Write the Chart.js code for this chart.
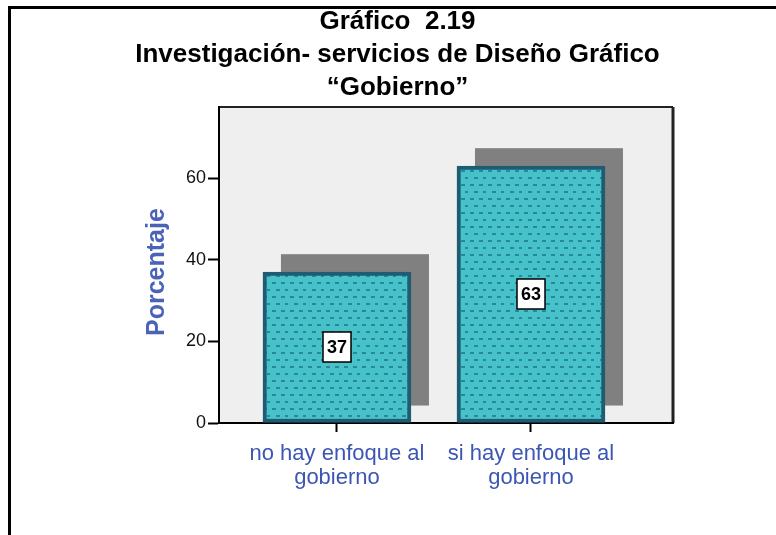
<!DOCTYPE html>
<html>
<head>
<meta charset="utf-8">
<script src="https://cdn.jsdelivr.net/npm/chart.js@4/dist/chart.umd.min.js"></script>
<style>
  html, body { margin: 0; padding: 0; background: #fff; overflow: hidden; }
  #wrap { position: relative; width: 776px; height: 535px; }
  #frame { position: absolute; left: 8px; top: 6px; width: 820px; height: 600px;
           border-left: 3px solid #000; border-top: 3px solid #000; }
  canvas { position: absolute; left: 0; top: 0; }
</style>
</head>
<body>
<div id="wrap">
  <div id="frame"></div>
  <canvas id="chart" width="776" height="535"></canvas>
</div>
<script>
// Gráfico 2.19 — Investigación, servicios de Diseño Gráfico "Gobierno"
const titleLines = ['Gráfico  2.19', 'Investigación- servicios de Diseño Gráfico', '“Gobierno”'];
const categories = [['no hay enfoque al', 'gobierno'], ['si hay enfoque al', 'gobierno']];
const percentages = [37, 63];
const yTicks = [0, 20, 40, 60];
const yTitle = 'Porcentaje';

const BLUE = '#3c56b4';
const FONT = '"Liberation Sans", Arial, sans-serif';

function makePattern() {
  const c = document.createElement('canvas');
  c.width = 18; c.height = 14;
  const g = c.getContext('2d');
  g.fillStyle = '#46c2c8';
  g.fillRect(0, 0, 18, 14);
  g.fillStyle = '#2886a0';
  [[2, 2], [11, 2], [6, 9], [15, 9]].forEach(([x, y]) => g.fillRect(x, y, 4, 2));
  return g.createPattern(c, 'repeat');
}

// fondo gris + marco del área + título vertical
const plotBox = {
  id: 'plotBox',
  beforeDraw(chart) {
    const { ctx, chartArea: a } = chart;
    ctx.save();
    ctx.fillStyle = '#efefef';
    ctx.fillRect(a.left, a.top, a.right - a.left, a.bottom - a.top);
    ctx.strokeStyle = '#222';
    ctx.lineWidth = 2;
    ctx.beginPath();
    ctx.moveTo(a.left, a.top);
    ctx.lineTo(a.right, a.top);
    ctx.stroke();
    ctx.lineWidth = 3;
    ctx.beginPath();
    ctx.moveTo(a.right, a.top);
    ctx.lineTo(a.right, a.bottom);
    ctx.stroke();
    // "Porcentaje"
    ctx.translate(a.left - 62, (a.top + a.bottom) / 2 + 7);
    ctx.rotate(-Math.PI / 2);
    ctx.fillStyle = '#4a62b8';
    ctx.font = 'bold 25px ' + FONT;
    ctx.textAlign = 'center';
    ctx.textBaseline = 'middle';
    ctx.fillText(yTitle, 0, 0);
    ctx.restore();
  },
};

// sombra gris detrás de cada barra
const barShadow = {
  id: 'barShadow',
  beforeDatasetsDraw(chart) {
    const { ctx } = chart;
    ctx.save();
    ctx.fillStyle = '#808080';
    chart.getDatasetMeta(0).data.forEach((bar) => {
      const w = bar.width;
      ctx.fillRect(bar.x - w / 2 + 18, bar.y - 18, w, bar.base - bar.y + 1);
    });
    ctx.restore();
  },
};

// etiqueta con el valor en un recuadro blanco
const valueBoxes = {
  id: 'valueBoxes',
  afterDatasetsDraw(chart) {
    const { ctx } = chart;
    ctx.save();
    ctx.font = 'bold 18px ' + FONT;
    ctx.textAlign = 'center';
    ctx.textBaseline = 'middle';
    chart.getDatasetMeta(0).data.forEach((bar, i) => {
      const cx = Math.round(bar.x), cy = Math.round((bar.y + bar.base) / 2);
      ctx.fillStyle = '#fff';
      ctx.fillRect(cx - 14, cy - 15, 28, 30);
      ctx.strokeStyle = '#000';
      ctx.lineWidth = 1.5;
      ctx.strokeRect(cx - 14, cy - 15, 28, 30);
      ctx.fillStyle = '#000';
      ctx.fillText(String(percentages[i]), cx, cy + 1);
    });
    ctx.restore();
  },
};

new Chart(document.getElementById('chart'), {
  type: 'bar',
  data: {
    datasets: [{
      data: percentages.map((v, i) => ({ x: i, y: v })),
      backgroundColor: makePattern(),
      borderColor: '#1d5c72',
      borderWidth: 4,
      borderSkipped: false,
      barThickness: 148,
    }],
  },
  plugins: [plotBox, barShadow, valueBoxes],
  options: {
    responsive: false,
    animation: false,
    layout: { padding: { left: 122, right: 103, top: 0, bottom: 35 } },
    plugins: {
      legend: { display: false },
      tooltip: { enabled: false },
      title: {
        display: true,
        text: titleLines,
        color: '#000',
        font: { family: FONT, size: 26, weight: 'bold', lineHeight: 1.27 },
        padding: { top: 5, bottom: 3 },
      },
    },
    scales: {
      x: {
        type: 'linear',
        offset: false,
        min: -0.608,
        max: 1.732,
        afterBuildTicks(scale) { scale.ticks = categories.map((c, i) => ({ value: i })); },
        ticks: {
          autoSkip: false,
          maxRotation: 0,
          padding: 10,
          color: BLUE,
          font: { family: FONT, size: 22, lineHeight: 1.09 },
          callback: (v) => categories[v],
        },
        grid: { offset: false, drawOnChartArea: false, tickLength: 9, tickColor: '#000', tickWidth: 2 },
        border: { color: '#000', width: 2 },
      },
      y: {
        min: 0,
        max: 77.5,
        afterFit(scale) { scale.width = 97; },
        afterBuildTicks(scale) { scale.ticks = yTicks.map((v) => ({ value: v })); },
        ticks: {
          padding: 2,
          color: '#111',
          font: { family: FONT, size: 18 },
        },
        grid: { drawOnChartArea: false, tickLength: 11, tickColor: '#000', tickWidth: 2 },
        border: { color: '#000', width: 2 },
      },
    },
  },
});
</script>
</body>
</html>
